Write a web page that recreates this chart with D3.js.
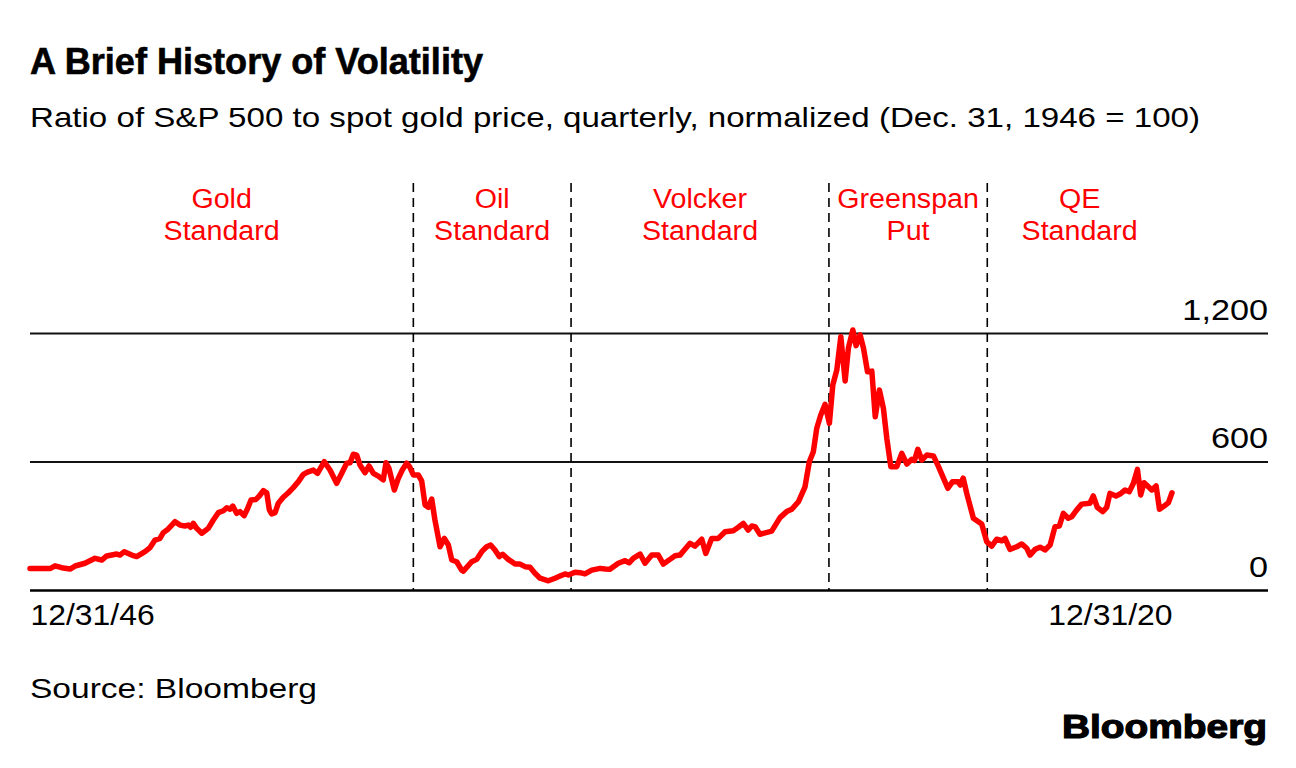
<!DOCTYPE html>
<html><head><meta charset="utf-8">
<script src="https://cdn.jsdelivr.net/npm/d3@7"></script>
<style>
body{margin:0;background:#fff;}
svg{display:block;font-family:"Liberation Sans",Arial,Helvetica,sans-serif;}
</style>
</head><body>
<svg id="chart" width="1296" height="768"></svg>
<script>
// ---- data ----
const years = [1947.00,1948.30,1948.62,1949.05,1949.59,1949.92,1950.56,1951.21,1951.65,1951.97,1952.62,1952.83,1953.11,1953.59,1953.91,1954.45,1954.78,1955.10,1955.42,1955.64,1955.96,1956.40,1956.72,1957.04,1957.26,1957.41,1957.58,1957.80,1958.13,1958.55,1958.88,1959.20,1959.53,1959.75,1959.96,1960.14,1960.39,1960.61,1960.87,1961.08,1961.32,1961.64,1961.86,1962.12,1962.34,1962.51,1962.66,1962.88,1963.09,1963.41,1963.74,1964.06,1964.39,1964.71,1965.03,1965.36,1965.63,1966.07,1966.44,1966.87,1967.20,1967.52,1967.74,1967.95,1968.17,1968.38,1968.71,1968.97,1969.25,1969.57,1969.89,1970.07,1970.26,1970.61,1970.87,1971.12,1971.41,1971.62,1971.84,1972.16,1972.38,1972.60,1972.81,1973.03,1973.24,1973.57,1973.85,1974.11,1974.33,1974.65,1974.97,1975.08,1975.62,1975.95,1976.27,1976.59,1976.85,1977.13,1977.41,1977.63,1977.99,1978.43,1978.75,1979.08,1979.40,1979.72,1980.05,1980.59,1981.02,1981.34,1981.67,1981.88,1982.32,1982.64,1982.96,1983.40,1983.94,1984.26,1984.58,1985.12,1985.56,1985.82,1986.09,1986.53,1986.85,1987.29,1987.71,1988.04,1988.47,1988.80,1989.12,1989.44,1989.77,1990.09,1990.53,1990.79,1991.17,1991.60,1992.04,1992.57,1992.90,1993.22,1993.54,1993.77,1993.98,1994.30,1995.06,1995.60,1996.03,1996.36,1996.79,1997.22,1997.50,1997.76,1997.98,1998.24,1998.52,1998.80,1999.02,1999.28,1999.54,1999.82,2000.03,2000.32,2000.53,2000.79,2001.01,2001.27,2001.55,2001.77,2002.04,2002.30,2002.52,2002.78,2003.17,2003.49,2003.82,2004.14,2004.31,2004.53,2004.79,2005.11,2005.54,2005.87,2006.19,2006.48,2006.78,2007.13,2007.28,2007.47,2007.70,2008.13,2008.67,2008.99,2009.32,2009.64,2009.97,2010.18,2010.50,2010.94,2011.26,2011.59,2011.80,2012.13,2012.45,2012.77,2013.10,2013.42,2013.70,2013.96,2014.28,2014.50,2014.83,2015.15,2015.68,2015.90,2016.16,2016.51,2016.77,2016.98,2017.37,2017.63,2017.96,2018.23,2018.50,2018.76,2018.97,2019.19,2019.47,2019.69,2019.97,2020.19,2020.49,2020.77,2021.00];
const ratio = [100,100,113,104,98,112,125,148,140,159,168,163,179,163,156,179,198,233,241,268,285,319,303,299,303,293,311,288,265,288,327,361,370,384,377,392,358,366,347,377,420,423,439,464,454,374,355,361,405,433,454,478,506,540,552,560,545,599,560,498,545,592,594,634,630,584,548,579,545,532,514,594,568,467,522,560,592,573,537,537,510,397,386,425,327,202,241,210,140,132,93,88,132,143,179,202,210,187,156,167,143,121,121,109,106,78,55,43,55,65,75,70,83,81,75,93,101,98,97,125,137,127,148,168,125,163,163,121,143,160,163,190,218,205,237,171,241,241,272,277,293,311,280,299,296,260,275,338,366,377,412,482,599,646,755,817,867,778,957,1027,1183,976,1129,1214,1141,1191,1129,1019,1022,809,934,848,708,576,576,638,588,610,604,657,607,630,626,576,522,475,506,506,490,522,451,335,308,226,205,237,230,241,190,202,215,195,163,190,200,187,210,296,299,358,335,342,374,401,405,439,386,366,386,451,439,448,467,459,498,563,444,501,482,467,486,377,392,408,454];
const eraBounds = [1971.84, 1982.06, 1998.77, 2009.03];
const eraLabels = [["Gold","Standard"],["Oil","Standard"],["Volcker","Standard"],["Greenspan","Put"],["QE","Standard"]];
const yTicks = [0, 600, 1200];
const xTicks = [1947.0, 2021.0];
const xTickLabels = ["12/31/46", "12/31/20"];

// ---- drawing ----
const svg = d3.select("#chart");
const RED = "#ff0000";
const FONT = "'Liberation Sans',Arial,sans-serif";
const x = d3.scaleLinear().domain([1947, 2021]).range([30, 1172]);
const y = d3.scaleLinear().domain([0, 1200]).range([590, 333]);
const gridRight = 1268, gridLeft = 30;

// widen glyphs (reference face is wider than Liberation Sans)
function widen(sel, f) {
  sel.each(function () {
    const w = this.getComputedTextLength();
    d3.select(this).attr("textLength", w * f).attr("lengthAdjust", "spacingAndGlyphs");
  });
}

// title & subtitle
svg.append("text").attr("x", 30).attr("y", 74)
  .attr("font-size", 36).attr("font-weight", "bold").attr("fill", "#000")
  .attr("stroke", "#000").attr("stroke-width", 0.6)
  .attr("textLength", 453).attr("lengthAdjust", "spacingAndGlyphs")
  .text("A Brief History of Volatility");
svg.append("text").attr("x", 30).attr("y", 127)
  .attr("font-size", 28.5).attr("fill", "#000")
  .attr("textLength", 1170).attr("lengthAdjust", "spacingAndGlyphs")
  .text("Ratio of S&P 500 to spot gold price, quarterly, normalized (Dec. 31, 1946 = 100)");

// y grid via axis
const yAxis = d3.axisLeft(y).tickValues(yTicks).tickSize(gridRight - gridLeft).tickFormat(d3.format(","));
const gy = svg.append("g").attr("transform", `translate(${gridRight},0)`).call(yAxis);
gy.select(".domain").remove();
gy.selectAll(".tick line").attr("stroke", "#111").attr("stroke-width", 2);
gy.selectAll(".tick").filter(d => d === 0).select("line").attr("stroke", "#000").attr("stroke-width", 2.5);
gy.selectAll(".tick text").attr("x", 0).attr("dy", null).attr("y", -14)
  .attr("text-anchor", "end").attr("font-size", 29).attr("fill", "#000")
  .attr("font-family", FONT);
widen(gy.selectAll(".tick text"), 1.18);

// x axis labels
const xAxis = d3.axisBottom(x).tickValues(xTicks).tickSize(0).tickFormat((d, i) => xTickLabels[i]);
const gx = svg.append("g").attr("transform", "translate(0,590)").call(xAxis);
gx.select(".domain").remove();
gx.selectAll(".tick text").attr("y", 35).attr("dy", null)
  .attr("font-size", 29).attr("fill", "#000")
  .attr("font-family", FONT)
  .attr("text-anchor", (d, i) => i === 0 ? "start" : "end");
widen(gx.selectAll(".tick text"), 1.1);

// era dividers
svg.append("g").selectAll("line").data(eraBounds).join("line")
  .attr("x1", d => x(d)).attr("x2", d => x(d))
  .attr("y1", 183).attr("y2", 590)
  .attr("stroke", "#000").attr("stroke-width", 1.6).attr("stroke-dasharray", "9,6");

// era labels
const edges = [x.domain()[0], ...eraBounds, x.domain()[1]];
const lg = svg.append("g");
eraLabels.forEach((lines, i) => {
  const cx = (x(edges[i]) + x(edges[i + 1])) / 2;
  const t = lg.append("text").attr("x", cx).attr("text-anchor", "middle")
    .attr("font-size", 27).attr("fill", RED);
  lines.forEach((s, j) => t.append("tspan").attr("x", cx).attr("y", 208 + j * 32).text(s));
});
widen(lg.selectAll("tspan"), 1.06);

// line
svg.append("path")
  .datum(years.map((yr, i) => [yr, ratio[i]]))
  .attr("fill", "none").attr("stroke", RED).attr("stroke-width", 5.5)
  .attr("stroke-linejoin", "round").attr("stroke-linecap", "round")
  .attr("d", d3.line().x(d => x(d[0])).y(d => y(d[1])));

// source & logo
svg.append("text").attr("x", 30).attr("y", 698)
  .attr("font-size", 28.5).attr("fill", "#000")
  .attr("textLength", 287).attr("lengthAdjust", "spacingAndGlyphs")
  .text("Source: Bloomberg");
svg.append("text").attr("x", 1062).attr("y", 738)
  .attr("font-size", 34).attr("font-weight", "bold").attr("fill", "#000")
  .attr("stroke", "#000").attr("stroke-width", 1.2)
  .attr("textLength", 205).attr("lengthAdjust", "spacingAndGlyphs")
  .text("Bloomberg");
</script>
</body></html>
